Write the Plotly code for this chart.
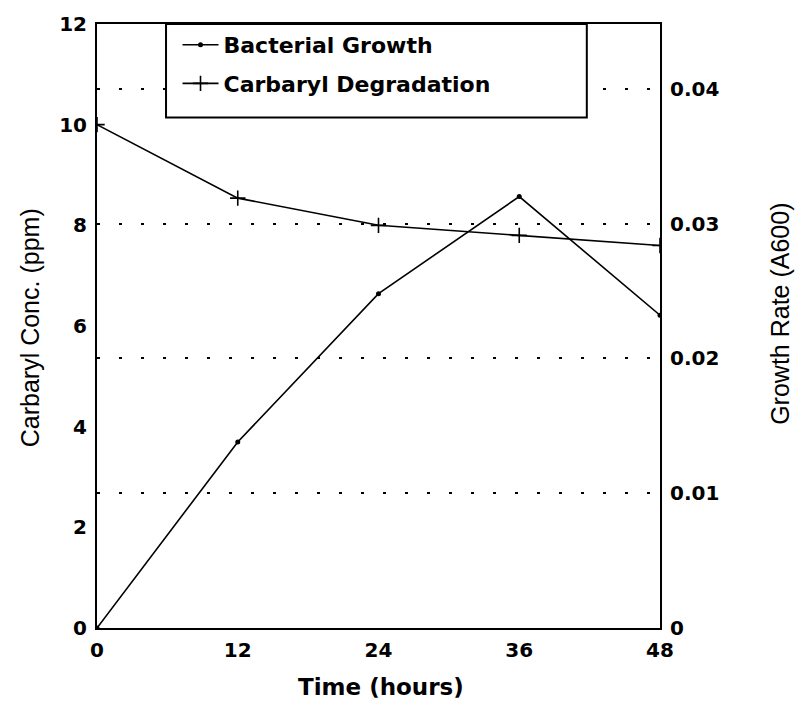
import plotly.graph_objects as go

time_h = [0, 12, 24, 36, 48]
growth = [0.0, 0.0138, 0.0248, 0.0320, 0.0232]
carbaryl = [10.0, 8.54, 8.0, 7.8, 7.6]

x_ticks = [0, 12, 24, 36, 48]
left_ticks = [0, 2, 4, 6, 8, 10, 12]
right_ticks = [0, 0.01, 0.02, 0.03, 0.04]
right_ticktext = ["0", "0.01", "0.02", "0.03", "0.04"]

FONT = "DejaVu Sans"
TITLE_FONT = "Liberation Sans Narrow, Liberation Sans"
fig = go.Figure()

fig.add_trace(go.Scatter(
    x=time_h, y=growth, name="Bacterial Growth", yaxis="y2",
    mode="lines+markers", legendgroup="a",
    line=dict(color="black", width=1.6),
    marker=dict(symbol="circle", size=5, color="black"),
))
fig.add_trace(go.Scatter(
    x=time_h, y=carbaryl, name="Carbaryl Degradation", yaxis="y",
    mode="lines+markers", legendgroup="b",
    line=dict(color="black", width=1.6),
    marker=dict(symbol="cross-thin", size=11, color="black",
                line=dict(color="black", width=1.6)),
))

fig.update_layout(
    width=800, height=704,
    margin=dict(l=97, r=140, t=19, b=76),
    paper_bgcolor="white", plot_bgcolor="white",
    font=dict(family=FONT, color="black", size=20, weight="bold"),
    showlegend=True,
    legend=dict(
        x=0.143, y=1.0, xanchor="left", yanchor="top",
        bgcolor="rgba(0,0,0,0)", borderwidth=0,
        font=dict(family=FONT, size=22, weight="bold", color="black"),
        tracegroupgap=7, itemwidth=36,
    ),
    xaxis=dict(
        range=[0, 48], tickvals=x_ticks, ticks="", showgrid=False,
        zeroline=False, showline=True, linecolor="black", linewidth=2,
        mirror=True, ticklabelstandoff=3,
        tickfont=dict(family=FONT, size=20, weight="bold"),
    ),
    yaxis=dict(
        range=[0, 12], tickvals=left_ticks, ticks="", showgrid=False,
        zeroline=False, showline=True, linecolor="black", linewidth=2,
        ticklabelstandoff=4,
        tickfont=dict(family=FONT, size=20, weight="bold"),
    ),
    yaxis2=dict(
        range=[0, 0.0448], tickvals=right_ticks, ticktext=right_ticktext,
        overlaying="y", side="right", ticks="", showgrid=True,
        gridcolor="black", gridwidth=2, griddash="3px,19px",
        zeroline=False, showline=True, linecolor="black", linewidth=2,
        ticklabelstandoff=4,
        tickfont=dict(family=FONT, size=20, weight="bold"),
    ),
    shapes=[dict(
        type="rect", xref="paper", yref="paper",
        x0=0.1226, x1=0.870, y0=0.845, y1=1.0,
        line=dict(color="black", width=2), fillcolor="white", layer="above",
    )],
    annotations=[
        dict(text="Time (hours)", xref="paper", yref="paper", x=0.505, y=-0.098,
             xanchor="center", yanchor="middle", showarrow=False,
             font=dict(family=FONT, size=23, weight="bold")),
        dict(text="Carbaryl Conc. (ppm)", xref="paper", yref="paper",
             x=-0.12, xanchor="center", y=0.497, yanchor="middle",
             textangle=-90, showarrow=False,
             font=dict(family=TITLE_FONT, size=25, weight="normal")),
        dict(text="Growth Rate (A600)", xref="paper", yref="paper",
             x=1.213, xanchor="center", y=0.52, yanchor="middle",
             textangle=-90, showarrow=False,
             font=dict(family=TITLE_FONT, size=25, weight="normal")),
    ],
)

fig.write_html("out.html")
